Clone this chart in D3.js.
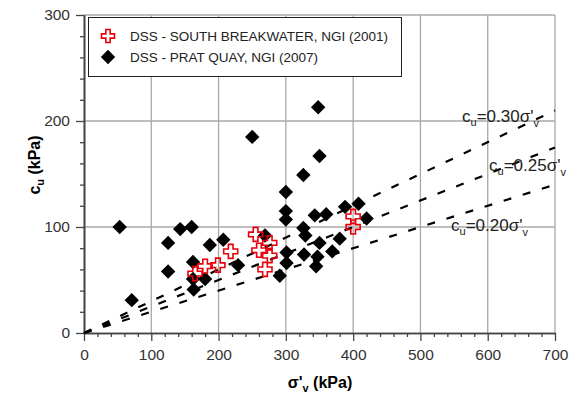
<!DOCTYPE html>
<html>
<head>
<meta charset="utf-8">
<script src="https://cdn.jsdelivr.net/npm/d3@7"></script>
<style>
  html, body { margin: 0; padding: 0; background: #fff; }
  svg { display: block; font-family: "Liberation Sans", Arial, sans-serif; }
</style>
</head>
<body>
<svg id="chart" width="576" height="401"></svg>
<script>
// Direct simple shear tests: vertical effective stress (kPa) vs undrained shear strength (kPa)
const southBreakwaterSigma = [165, 180, 199, 218, 255, 260, 269, 276, 276, 400, 400];
const southBreakwaterCu    = [56,  63,  64,  77,  93,  78,  60,  85,  73,  100, 110];

const pratQuaySigma = [53, 71, 125, 125, 143, 160, 162, 162, 163, 180, 187, 207, 229, 250, 269,
                       291, 300, 300, 300, 301, 301, 326, 326, 329, 327, 343, 345, 347, 350,
                       348, 350, 360, 369, 380, 388, 408, 420];
const pratQuayCu    = [100, 31, 85, 58, 98, 100, 67, 51, 41, 51, 83, 88, 64, 185, 92,
                       54, 133, 115, 107, 76, 66, 149, 99, 92, 74, 111, 63, 72, 85,
                       213, 167, 112, 77, 89, 119, 122, 108];

// Strength ratio reference lines cu = k * sigma'v
const ratios = [0.30, 0.25, 0.20];
const ratioLabels = ["0.30", "0.25", "0.20"];

const xTicks = [0, 100, 200, 300, 400, 500, 600, 700];
const yTicks = [0, 100, 200, 300];

const legendLabels = ["DSS - SOUTH BREAKWATER, NGI (2001)", "DSS - PRAT QUAY, NGI (2007)"];

const svg = d3.select("#chart");
const x = d3.scaleLinear().domain([0, 700]).range([84, 555]);
const y = d3.scaleLinear().domain([0, 300]).range([333, 15]);

const axisColor = "#444";
const gridColor = "#a8a8a8";

// grid
const grid = svg.append("g");
grid.selectAll("line.vx").data(xTicks.slice(1)).join("line")
  .attr("x1", d => x(d)).attr("x2", d => x(d))
  .attr("y1", y(0)).attr("y2", y(300))
  .attr("stroke", gridColor).attr("stroke-width", 1.3);
grid.selectAll("line.hy").data(yTicks.slice(1)).join("line")
  .attr("y1", d => y(d)).attr("y2", d => y(d))
  .attr("x1", x(0)).attr("x2", x(700))
  .attr("stroke", gridColor).attr("stroke-width", 1.3);

// axes: major ticks every 100, minor every 20
function styleAxis(g) {
  g.select(".domain").attr("stroke", axisColor).attr("stroke-width", 1.6);
  g.selectAll(".tick line").attr("stroke", axisColor).attr("stroke-width", 1.3);
  g.selectAll(".tick text").attr("fill", "#333").style("font-size", "15.5px")
    .style("font-family", "'Liberation Sans', Arial, sans-serif");
}
const xMinor = d3.range(0, 701, 20).filter(v => v % 100 !== 0);
const yMinor = d3.range(0, 301, 20).filter(v => v % 100 !== 0);

svg.append("g").attr("transform", `translate(0,${y(0)})`)
  .call(d3.axisBottom(x).tickValues(xMinor).tickSize(4).tickFormat("").tickSizeOuter(0))
  .call(styleAxis);
svg.append("g").attr("transform", `translate(0,${y(0)})`)
  .call(d3.axisBottom(x).tickValues(xTicks).tickSize(8).tickPadding(8).tickSizeOuter(0))
  .call(styleAxis);
svg.append("g").attr("transform", `translate(${x(0)},0)`)
  .call(d3.axisLeft(y).tickValues(yMinor).tickSize(4).tickFormat("").tickSizeOuter(0))
  .call(styleAxis);
svg.append("g").attr("transform", `translate(${x(0)},0)`)
  .call(d3.axisLeft(y).tickValues(yTicks).tickSize(8).tickPadding(6).tickSizeOuter(0))
  .call(styleAxis);

// ratio lines
const line = d3.line().x(d => x(d[0])).y(d => y(d[1]));
svg.append("g").selectAll("path").data(ratios).join("path")
  .attr("d", k => line([[0, 0], [700, 700 * k]]))
  .attr("fill", "none").attr("stroke", "#000").attr("stroke-width", 2.2)
  .attr("stroke-dasharray", "8,12");

// markers
const diamond = d3.symbol().type(d3.symbolDiamond2).size(132);
svg.append("g").selectAll("path").data(pratQuaySigma).join("path")
  .attr("d", diamond)
  .attr("transform", (d, i) => `translate(${x(d)},${y(pratQuayCu[i])})`)
  .attr("fill", "#000");

function crossPath(s) {
  const a = s / 2, b = s / 6;
  return `M${-b},${-a}H${b}V${-b}H${a}V${b}H${b}V${a}H${-b}V${b}H${-a}V${-b}H${-b}Z`;
}
svg.append("g").selectAll("path").data(southBreakwaterSigma).join("path")
  .attr("d", crossPath(14))
  .attr("transform", (d, i) => `translate(${x(d)},${y(southBreakwaterCu[i])})`)
  .attr("fill", "none").attr("stroke", "#e8000b").attr("stroke-width", 1.6);

// ratio labels
const labelPos = [[462, 122], [489, 171], [451, 231]];
ratios.forEach((k, i) => {
  const t = svg.append("text").attr("x", labelPos[i][0]).attr("y", labelPos[i][1])
    .attr("fill", "#222").style("font-size", "17px");
  t.append("tspan").text("c");
  t.append("tspan").attr("dy", 4).style("font-size", "11px").text("u");
  t.append("tspan").attr("dy", -4).text("=" + ratioLabels[i] + "σ'");
  t.append("tspan").attr("dy", 5).style("font-size", "11px").text("v");
});

// legend
const lg = svg.append("g");
lg.append("rect").attr("x", 88.5).attr("y", 17.5).attr("width", 313).attr("height", 59)
  .attr("fill", "#fff").attr("stroke", "#222").attr("stroke-width", 1);
lg.append("path").attr("d", crossPath(13)).attr("transform", "translate(108,36)")
  .attr("fill", "#fff").attr("stroke", "#e8000b").attr("stroke-width", 1.6);
lg.append("path").attr("d", diamond).attr("transform", "translate(108,57)").attr("fill", "#000");
legendLabels.forEach((s, i) => {
  lg.append("text").attr("x", 130).attr("y", 41 + i * 21).attr("fill", "#222")
    .style("font-size", "13.5px").text(s);
});

// axis titles
const yt = svg.append("text").attr("transform", "translate(40,165) rotate(-90)")
  .attr("text-anchor", "middle").style("font-size", "16px").style("font-weight", "bold");
yt.append("tspan").text("c");
yt.append("tspan").attr("dy", 4).style("font-size", "11px").text("u");
yt.append("tspan").attr("dy", -4).text(" (kPa)");

const xt = svg.append("text").attr("x", 320).attr("y", 388)
  .attr("text-anchor", "middle").style("font-size", "16px").style("font-weight", "bold");
xt.append("tspan").text("σ'");
xt.append("tspan").attr("dy", 4).style("font-size", "11px").text("v");
xt.append("tspan").attr("dy", -4).text(" (kPa)");
</script>
</body>
</html>
